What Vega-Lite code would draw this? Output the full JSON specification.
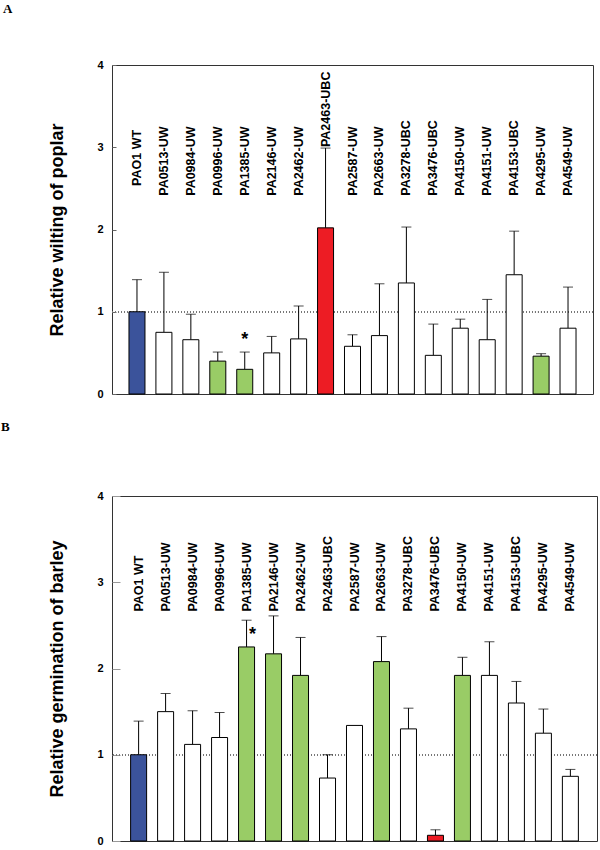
{
  "$schema": "https://vega.github.io/schema/vega-lite/v6.json",
  "padding": {"left": 0, "top": 2, "right": 0, "bottom": 0},
  "background": "white",
  "config": {
    "view": {"stroke": "#333333", "strokeWidth": 1},
    "font": "Liberation Sans",
    "title": {"font": "Liberation Serif", "fontSize": 13, "fontWeight": "bold", "anchor": "start", "color": "black"},
    "concat": {"spacing": 20}
  },
  "datasets": {
    "wilt": [
      {"name": "PAO1 WT", "val": 1.0, "hi": 1.39, "grp": "wt", "star": false},
      {"name": "PA0513-UW", "val": 0.75, "hi": 1.48, "grp": "none", "star": false},
      {"name": "PA0984-UW", "val": 0.66, "hi": 0.97, "grp": "none", "star": false},
      {"name": "PA0996-UW", "val": 0.40, "hi": 0.51, "grp": "green", "star": false},
      {"name": "PA1385-UW", "val": 0.30, "hi": 0.51, "grp": "green", "star": true},
      {"name": "PA2146-UW", "val": 0.50, "hi": 0.70, "grp": "none", "star": false},
      {"name": "PA2462-UW", "val": 0.67, "hi": 1.07, "grp": "none", "star": false},
      {"name": "PA2463-UBC", "val": 2.02, "hi": 2.99, "grp": "red", "star": false},
      {"name": "PA2587-UW", "val": 0.58, "hi": 0.72, "grp": "none", "star": false},
      {"name": "PA2663-UW", "val": 0.71, "hi": 1.34, "grp": "none", "star": false},
      {"name": "PA3278-UBC", "val": 1.35, "hi": 2.03, "grp": "none", "star": false},
      {"name": "PA3476-UBC", "val": 0.47, "hi": 0.85, "grp": "none", "star": false},
      {"name": "PA4150-UW", "val": 0.80, "hi": 0.91, "grp": "none", "star": false},
      {"name": "PA4151-UW", "val": 0.66, "hi": 1.15, "grp": "none", "star": false},
      {"name": "PA4153-UBC", "val": 1.45, "hi": 1.98, "grp": "none", "star": false},
      {"name": "PA4295-UW", "val": 0.46, "hi": 0.49, "grp": "green", "star": false},
      {"name": "PA4549-UW", "val": 0.80, "hi": 1.30, "grp": "none", "star": false}
    ],
    "germ": [
      {"name": "PAO1 WT", "val": 1.0, "hi": 1.39, "grp": "wt", "star": false},
      {"name": "PA0513-UW", "val": 1.50, "hi": 1.71, "grp": "none", "star": false},
      {"name": "PA0984-UW", "val": 1.12, "hi": 1.51, "grp": "none", "star": false},
      {"name": "PA0996-UW", "val": 1.20, "hi": 1.49, "grp": "none", "star": false},
      {"name": "PA1385-UW", "val": 2.25, "hi": 2.56, "grp": "green", "star": true},
      {"name": "PA2146-UW", "val": 2.17, "hi": 2.61, "grp": "green", "star": false},
      {"name": "PA2462-UW", "val": 1.92, "hi": 2.36, "grp": "green", "star": false},
      {"name": "PA2463-UBC", "val": 0.73, "hi": 1.0, "grp": "none", "star": false},
      {"name": "PA2587-UW", "val": 1.34, "hi": null, "grp": "none", "star": false},
      {"name": "PA2663-UW", "val": 2.08, "hi": 2.37, "grp": "green", "star": false},
      {"name": "PA3278-UBC", "val": 1.30, "hi": 1.54, "grp": "none", "star": false},
      {"name": "PA3476-UBC", "val": 0.066, "hi": 0.13, "grp": "red", "star": false},
      {"name": "PA4150-UW", "val": 1.92, "hi": 2.13, "grp": "green", "star": false},
      {"name": "PA4151-UW", "val": 1.92, "hi": 2.31, "grp": "none", "star": false},
      {"name": "PA4153-UBC", "val": 1.60, "hi": 1.85, "grp": "none", "star": false},
      {"name": "PA4295-UW", "val": 1.25, "hi": 1.53, "grp": "none", "star": false},
      {"name": "PA4549-UW", "val": 0.75, "hi": 0.83, "grp": "none", "star": false}
    ]
  },
  "vconcat": [
    {
      "title": {"text": "A", "dx": -46, "offset": 43},
      "width": 481,
      "height": 329,
      "data": {"name": "wilt"},
      "encoding": {
        "x": {"field": "name", "type": "nominal", "axis": null,
              "sort": ["PAO1 WT", "PA0513-UW", "PA0984-UW", "PA0996-UW", "PA1385-UW", "PA2146-UW", "PA2462-UW", "PA2463-UBC", "PA2587-UW", "PA2663-UW", "PA3278-UBC", "PA3476-UBC", "PA4150-UW", "PA4151-UW", "PA4153-UBC", "PA4295-UW", "PA4549-UW"],
              "scale": {"paddingInner": 0.406, "paddingOuter": 0.63}},
        "y": {"type": "quantitative", "scale": {"domain": [0, 4], "nice": false, "zero": true},
              "axis": {"values": [0, 1, 2, 3, 4], "grid": false, "ticks": true, "tickSize": -4, "tickColor": "#666666", "domain": false,
                       "labelFontSize": 11, "labelFontWeight": "bold", "labelColor": "black", "labelPadding": 13,
                       "title": "Relative wilting of poplar", "titleFontSize": 18, "titleFontWeight": "bold",
                       "titleColor": "black", "titlePadding": 30}}
      },
      "layer": [
        {"mark": {"type": "rule", "color": "#777777", "strokeDash": [1, 2], "strokeWidth": 1},
         "encoding": {"x": null, "y": {"datum": 1}}},
        {"transform": [{"filter": "datum.hi != null"}],
         "mark": {"type": "rule", "color": "black", "strokeWidth": 1},
         "encoding": {"y": {"field": "val", "type": "quantitative"}, "y2": {"field": "hi"}}},
        {"transform": [{"filter": "datum.hi != null"}],
         "mark": {"type": "tick", "color": "black", "size": 10, "thickness": 1},
         "encoding": {"y": {"field": "hi", "type": "quantitative"}}},
        {"mark": {"type": "bar", "stroke": "black", "strokeWidth": 1},
         "encoding": {"y": {"field": "val", "type": "quantitative"},
                      "fill": {"field": "grp", "type": "nominal", "legend": null,
                               "scale": {"domain": ["wt", "green", "red", "none"], "range": ["#3b539b", "#99cc66", "#ed1c24", "#ffffff"]}}}},
        {"transform": [{"filter": "datum.name != 'PAO1 WT' && datum.name != 'PA2463-UBC'"}],
         "mark": {"type": "text", "angle": 270, "align": "left", "baseline": "middle", "fontSize": 12.5, "fontWeight": "bold", "font": "Liberation Sans", "color": "black"},
         "encoding": {"y": {"datum": 2.41}, "text": {"field": "name"}}},
        {"transform": [{"filter": "datum.name == 'PAO1 WT'"}],
         "mark": {"type": "text", "angle": 270, "align": "left", "baseline": "middle", "fontSize": 12.5, "fontWeight": "bold", "font": "Liberation Sans", "color": "black"},
         "encoding": {"y": {"datum": 2.53}, "text": {"field": "name"}}},
        {"transform": [{"filter": "datum.name == 'PA2463-UBC'"}],
         "mark": {"type": "text", "angle": 270, "align": "left", "baseline": "middle", "fontSize": 12.5, "fontWeight": "bold", "font": "Liberation Sans", "color": "black", "dx": 1},
         "encoding": {"y": {"field": "hi", "type": "quantitative"}, "text": {"field": "name"}}},
        {"transform": [{"filter": "datum.star"}],
         "mark": {"type": "text", "text": "*", "fontSize": 18, "fontWeight": "bold", "baseline": "middle", "dy": -12, "color": "black"},
         "encoding": {"y": {"field": "hi", "type": "quantitative"}}}
      ]
    },
    {
      "title": {"text": "B", "dx": -48, "offset": 56},
      "width": 485,
      "height": 345,
      "data": {"name": "germ"},
      "encoding": {
        "x": {"field": "name", "type": "nominal", "axis": null,
              "sort": ["PAO1 WT", "PA0513-UW", "PA0984-UW", "PA0996-UW", "PA1385-UW", "PA2146-UW", "PA2462-UW", "PA2463-UBC", "PA2587-UW", "PA2663-UW", "PA3278-UBC", "PA3476-UBC", "PA4150-UW", "PA4151-UW", "PA4153-UBC", "PA4295-UW", "PA4549-UW"],
              "scale": {"paddingInner": 0.407, "paddingOuter": 0.69}},
        "y": {"type": "quantitative", "scale": {"domain": [0, 4], "nice": false, "zero": true},
              "axis": {"values": [0, 1, 2, 3, 4], "grid": false, "ticks": true, "tickSize": -8, "tickColor": "#999999", "domain": false,
                       "labelFontSize": 11, "labelFontWeight": "bold", "labelColor": "black", "labelPadding": 17,
                       "title": "Relative germination of barley", "titleFontSize": 18, "titleFontWeight": "bold",
                       "titleColor": "black", "titlePadding": 30}}
      },
      "layer": [
        {"mark": {"type": "rule", "color": "#777777", "strokeDash": [1, 2], "strokeWidth": 1},
         "encoding": {"x": null, "y": {"datum": 1}}},
        {"transform": [{"filter": "datum.hi != null"}],
         "mark": {"type": "rule", "color": "black", "strokeWidth": 1},
         "encoding": {"y": {"field": "val", "type": "quantitative"}, "y2": {"field": "hi"}}},
        {"transform": [{"filter": "datum.hi != null"}],
         "mark": {"type": "tick", "color": "black", "size": 10, "thickness": 1},
         "encoding": {"y": {"field": "hi", "type": "quantitative"}}},
        {"mark": {"type": "bar", "stroke": "black", "strokeWidth": 1},
         "encoding": {"y": {"field": "val", "type": "quantitative"},
                      "fill": {"field": "grp", "type": "nominal", "legend": null,
                               "scale": {"domain": ["wt", "green", "red", "none"], "range": ["#3b539b", "#99cc66", "#ed1c24", "#ffffff"]}}}},
        {"mark": {"type": "text", "angle": 270, "align": "left", "baseline": "middle", "fontSize": 12.5, "fontWeight": "bold", "font": "Liberation Sans", "color": "black"},
         "encoding": {"y": {"datum": 2.66}, "text": {"field": "name"}}},
        {"transform": [{"filter": "datum.star"}],
         "mark": {"type": "text", "text": "*", "fontSize": 18, "fontWeight": "bold", "baseline": "middle", "dx": 6, "dy": 15, "color": "black"},
         "encoding": {"y": {"field": "hi", "type": "quantitative"}}}
      ]
    }
  ]
}
